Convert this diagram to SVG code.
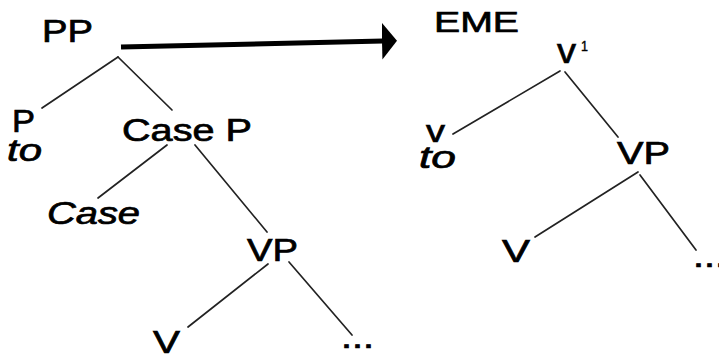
<svg xmlns="http://www.w3.org/2000/svg" width="719" height="354" viewBox="0 0 719 354">
  <style>
    .lbl { font-family: "Liberation Sans", Arial, sans-serif; font-size: 31px; fill: #000; stroke: #000; stroke-width: 0.7px; }
    .it { font-style: italic; }
    .sup { font-size: 14px; stroke-width: 0.4px; }
    .edge { stroke: #222; stroke-width: 1.7; fill: none; stroke-linecap: round; }
    .shift { stroke: #000; stroke-width: 5; fill: none; }
  </style>
  <defs>
    <marker id="head" markerUnits="userSpaceOnUse" viewBox="0 0 15 37" refX="1" refY="18.5" markerWidth="15" markerHeight="37" orient="auto">
      <path d="M0,0 L15,18.5 L0,37 Z" fill="#000"/>
    </marker>
  </defs>
  <rect width="719" height="354" fill="#fff"/>

  <!-- tree branches and the transformation arrow -->
  <g id="connectors">
    <line class="shift" x1="121" y1="47" x2="383" y2="41" marker-end="url(#head)"/>
    <!-- left tree -->
    <line class="edge" x1="118" y1="57" x2="42" y2="108"/>
    <line class="edge" x1="118" y1="57" x2="172" y2="110"/>
    <line class="edge" x1="167" y1="145" x2="98" y2="198"/>
    <line class="edge" x1="195" y1="145" x2="267" y2="232"/>
    <line class="edge" x1="268" y1="264" x2="188" y2="327"/>
    <line class="edge" x1="289" y1="262" x2="352" y2="335"/>
    <!-- right tree -->
    <line class="edge" x1="560" y1="71" x2="453" y2="134"/>
    <line class="edge" x1="565" y1="72" x2="618" y2="137"/>
    <line class="edge" x1="638" y1="172" x2="535" y2="237"/>
    <line class="edge" x1="640" y1="175" x2="696" y2="250"/>
  </g>

  <!-- left tree -->
  <g id="pp"><text class="lbl" x="42" y="42" textLength="51" lengthAdjust="spacingAndGlyphs">PP</text></g>
  <g id="p-to">
    <text class="lbl" x="12" y="132" textLength="23" lengthAdjust="spacingAndGlyphs">P</text>
    <text class="lbl it" x="7" y="161" textLength="35" lengthAdjust="spacingAndGlyphs">to</text>
  </g>
  <g id="casep"><text class="lbl" x="122" y="141" textLength="130" lengthAdjust="spacingAndGlyphs">Case P</text></g>
  <g id="case"><text class="lbl it" x="47" y="224" textLength="93" lengthAdjust="spacingAndGlyphs">Case</text></g>
  <g id="vp-left"><text class="lbl" x="247" y="261" textLength="51" lengthAdjust="spacingAndGlyphs">VP</text></g>
  <g id="v-left"><text class="lbl" x="153" y="353" textLength="27" lengthAdjust="spacingAndGlyphs">V</text></g>
  <g id="dots-left"><text class="lbl" x="341" y="348" textLength="33" lengthAdjust="spacingAndGlyphs">...</text></g>

  <!-- right tree -->
  <g id="eme"><text class="lbl" x="434" y="32" textLength="85" lengthAdjust="spacingAndGlyphs" style="font-size:29px">EME</text></g>
  <g id="vbar">
    <text class="lbl" x="557" y="63" textLength="19" lengthAdjust="spacingAndGlyphs" style="font-size:35px">v</text>
    <text class="lbl sup" x="581" y="51" textLength="7" lengthAdjust="spacingAndGlyphs">1</text>
  </g>
  <g id="v-to">
    <text class="lbl" x="426" y="142" textLength="19" lengthAdjust="spacingAndGlyphs">v</text>
    <text class="lbl it" x="419" y="168" textLength="37" lengthAdjust="spacingAndGlyphs">to</text>
  </g>
  <g id="vp-right"><text class="lbl" x="617" y="164" textLength="53" lengthAdjust="spacingAndGlyphs">VP</text></g>
  <g id="v-right"><text class="lbl" x="502" y="262" textLength="28" lengthAdjust="spacingAndGlyphs">V</text></g>
  <g id="dots-right"><text class="lbl" x="693" y="267" textLength="33" lengthAdjust="spacingAndGlyphs">...</text></g>
</svg>
